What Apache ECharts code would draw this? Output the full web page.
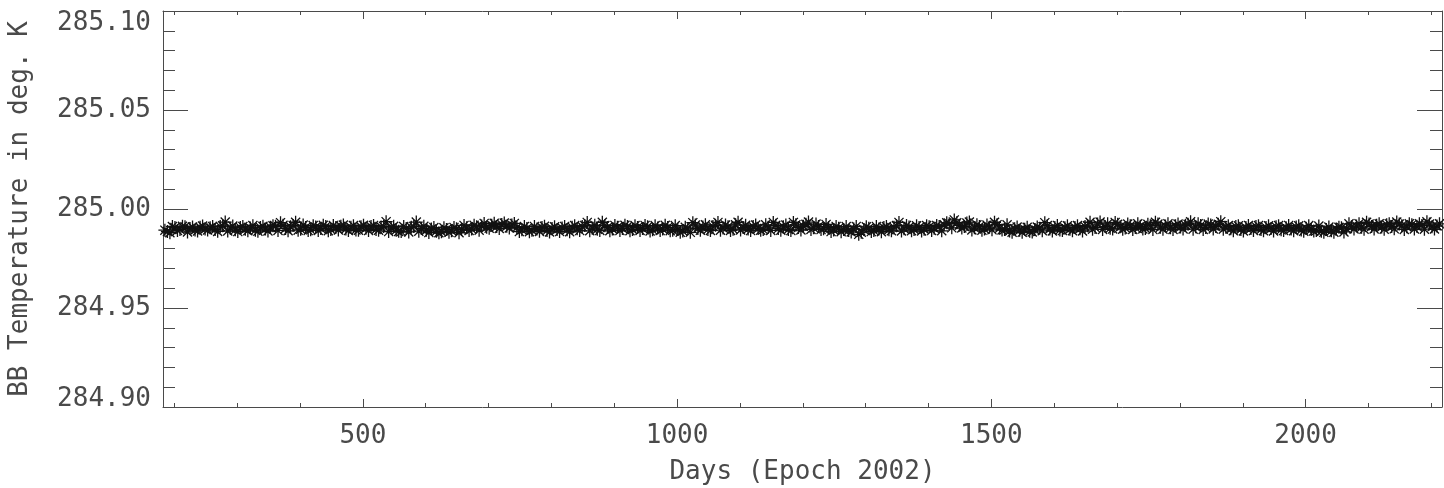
<!DOCTYPE html>
<html>
<head>
<meta charset="utf-8">
<script src="https://cdn.jsdelivr.net/npm/echarts@6/dist/echarts.min.js"></script>
<style>
html,body{margin:0;padding:0;background:#fff;}
#chart{width:1444px;height:488px;}
</style>
</head>
<body>
<div id="chart"></div>
<script>
// ---- data ----
const days = [
  185,193,201,209,217,225,233,241,249,257,
  265,273,281,289,297,305,313,321,329,337,
  345,353,361,369,377,385,393,401,409,417,
  425,433,441,449,457,465,473,481,489,497,
  505,513,521,529,537,545,553,561,569,577,
  585,593,601,609,617,625,633,641,649,657,
  665,673,681,689,697,705,713,721,729,737,
  745,753,761,769,777,785,793,801,809,817,
  825,833,841,849,857,865,873,881,889,897,
  905,913,921,929,937,945,953,961,969,977,
  985,993,1001,1009,1017,1025,1033,1041,1049,1057,
  1065,1073,1081,1089,1097,1105,1113,1121,1129,1137,
  1145,1153,1161,1169,1177,1185,1193,1201,1209,1217,
  1225,1233,1241,1249,1257,1265,1273,1281,1289,1297,
  1305,1313,1321,1329,1337,1345,1353,1361,1369,1377,
  1385,1393,1401,1409,1417,1425,1433,1441,1449,1457,
  1465,1473,1481,1489,1497,1505,1513,1521,1529,1537,
  1545,1553,1561,1569,1577,1585,1593,1601,1609,1617,
  1625,1633,1641,1649,1657,1665,1673,1681,1689,1697,
  1705,1713,1721,1729,1737,1745,1753,1761,1769,1777,
  1785,1793,1801,1809,1817,1825,1833,1841,1849,1857,
  1865,1873,1881,1889,1897,1905,1913,1921,1929,1937,
  1945,1953,1961,1969,1977,1985,1993,2001,2009,2017,
  2025,2033,2041,2049,2057,2065,2073,2081,2089,2097,
  2105,2113,2121,2129,2137,2145,2153,2161,2169,2177,
  2185,2193,2201,2209
];
const temps = [
  284.9893,284.9880,284.9906,284.9897,284.9910,284.9902,284.9894,284.9908,284.9899,284.9905,
  284.9896,284.9912,284.9934,284.9903,284.9895,284.9907,284.9898,284.9904,284.9893,284.9906,
  284.9899,284.9908,284.9913,284.9931,284.9902,284.9910,284.9933,284.9898,284.9907,284.9895,
  284.9909,284.9901,284.9912,284.9896,284.9906,284.9913,284.9899,284.9908,284.9894,284.9910,
  284.9903,284.9911,284.9897,284.9909,284.9936,284.9904,284.9893,284.9886,284.9902,284.9908,
  284.9934,284.9901,284.9893,284.9899,284.9888,284.9885,284.9896,284.9890,284.9900,284.9897,
  284.9905,284.9899,284.9910,284.9914,284.9908,284.9918,284.9912,284.9922,284.9913,284.9919,
  284.9906,284.9895,284.9902,284.9893,284.9899,284.9906,284.9891,284.9901,284.9897,284.9904,
  284.9895,284.9908,284.9900,284.9911,284.9932,284.9903,284.9898,284.9933,284.9906,284.9899,
  284.9908,284.9902,284.9912,284.9897,284.9907,284.9901,284.9910,284.9895,284.9904,284.9899,
  284.9907,284.9893,284.9897,284.9889,284.9900,284.9931,284.9902,284.9909,284.9897,284.9912,
  284.9932,284.9904,284.9910,284.9898,284.9933,284.9906,284.9899,284.9911,284.9902,284.9896,
  284.9908,284.9932,284.9901,284.9910,284.9897,284.9932,284.9906,284.9913,284.9934,284.9905,
  284.9912,284.9900,284.9906,284.9894,284.9903,284.9897,284.9892,284.9899,284.9872,284.9896,
  284.9903,284.9891,284.9899,284.9906,284.9895,284.9908,284.9932,284.9900,284.9909,284.9897,
  284.9906,284.9898,284.9910,284.9903,284.9912,284.9920,284.9926,284.9945,284.9918,284.9912,
  284.9934,284.9905,284.9912,284.9899,284.9908,284.9933,284.9903,284.9896,284.9889,284.9900,
  284.9893,284.9898,284.9887,284.9896,284.9903,284.9931,284.9899,284.9907,284.9894,284.9905,
  284.9898,284.9906,284.9900,284.9911,284.9933,284.9907,284.9934,284.9912,284.9903,284.9932,
  284.9910,284.9904,284.9915,284.9906,284.9913,284.9902,284.9916,284.9933,284.9908,284.9914,
  284.9905,284.9916,284.9909,284.9918,284.9935,284.9910,284.9917,284.9906,284.9919,284.9912,
  284.9936,284.9908,284.9900,284.9911,284.9897,284.9906,284.9902,284.9912,284.9896,284.9907,
  284.9901,284.9910,284.9895,284.9905,284.9899,284.9909,284.9894,284.9903,284.9897,284.9891,
  284.9888,284.9896,284.9890,284.9899,284.9905,284.9900,284.9910,284.9914,284.9908,284.9933,
  284.9912,284.9918,284.9909,284.9920,284.9911,284.9934,284.9915,284.9910,284.9921,284.9913,
  284.9917,284.9935,284.9910,284.9914
];
// interleaved samples (the upper / lower rows of the band)
const days2 = [
  189,197,205,213,221,229,237,245,253,261,
  269,277,285,293,301,309,317,325,333,341,
  349,357,365,373,381,389,397,405,413,421,
  429,437,445,453,461,469,477,485,493,501,
  509,517,525,533,541,549,557,565,573,581,
  589,597,605,613,621,629,637,645,653,661,
  669,677,685,693,701,709,717,725,733,741,
  749,757,765,773,781,789,797,805,813,821,
  829,837,845,853,861,869,877,885,893,901,
  909,917,925,933,941,949,957,965,973,981,
  989,997,1005,1013,1021,1029,1037,1045,1053,1061,
  1069,1077,1085,1093,1101,1109,1117,1125,1133,1141,
  1149,1157,1165,1173,1181,1189,1197,1205,1213,1221,
  1229,1237,1245,1253,1261,1269,1277,1285,1293,1301,
  1309,1317,1325,1333,1341,1349,1357,1365,1373,1381,
  1389,1397,1405,1413,1421,1429,1437,1445,1453,1461,
  1469,1477,1485,1493,1501,1509,1517,1525,1533,1541,
  1549,1557,1565,1573,1581,1589,1597,1605,1613,1621,
  1629,1637,1645,1653,1661,1669,1677,1685,1693,1701,
  1709,1717,1725,1733,1741,1749,1757,1765,1773,1781,
  1789,1797,1805,1813,1821,1829,1837,1845,1853,1861,
  1869,1877,1885,1893,1901,1909,1917,1925,1933,1941,
  1949,1957,1965,1973,1981,1989,1997,2005,2013,2021,
  2029,2037,2045,2053,2061,2069,2077,2085,2093,2101,
  2109,2117,2125,2133,2141,2149,2157,2165,2173,2181,
  2189,2197,2205,2213
];
const temps2 = [
  284.9886,284.9911,284.9892,284.9913,284.9884,284.9909,284.9889,284.9914,284.9894,284.9912,
  284.9887,284.9915,284.9889,284.9914,284.9886,284.9912,284.9890,284.9916,284.9888,284.9913,
  284.9889,284.9915,284.9892,284.9918,284.9890,284.9917,284.9893,284.9919,284.9891,284.9916,
  284.9892,284.9918,284.9890,284.9917,284.9894,284.9919,284.9891,284.9916,284.9893,284.9918,
  284.9891,284.9917,284.9893,284.9912,284.9886,284.9913,284.9887,284.9911,284.9884,284.9912,
  284.9888,284.9913,284.9881,284.9906,284.9880,284.9905,284.9882,284.9907,284.9880,284.9917,
  284.9892,284.9918,284.9893,284.9927,284.9903,284.9928,284.9902,284.9929,284.9904,284.9927,
  284.9886,284.9911,284.9885,284.9912,284.9887,284.9913,284.9884,284.9910,284.9886,284.9912,
  284.9885,284.9916,284.9891,284.9917,284.9890,284.9918,284.9892,284.9916,284.9890,284.9917,
  284.9891,284.9918,284.9890,284.9916,284.9892,284.9917,284.9889,284.9916,284.9891,284.9918,
  284.9890,284.9916,284.9883,284.9908,284.9882,284.9919,284.9893,284.9920,284.9892,284.9918,
  284.9893,284.9919,284.9892,284.9920,284.9894,284.9918,284.9891,284.9919,284.9893,284.9920,
  284.9892,284.9918,284.9893,284.9919,284.9891,284.9920,284.9894,284.9923,284.9897,284.9924,
  284.9896,284.9922,284.9886,284.9912,284.9885,284.9911,284.9884,284.9912,284.9883,284.9910,
  284.9886,284.9912,284.9885,284.9911,284.9890,284.9916,284.9889,284.9917,284.9890,284.9915,
  284.9889,284.9916,284.9891,284.9917,284.9890,284.9930,284.9905,284.9931,284.9904,284.9929,
  284.9894,284.9920,284.9893,284.9919,284.9895,284.9921,284.9894,284.9920,284.9883,284.9909,
  284.9882,284.9908,284.9884,284.9909,284.9890,284.9916,284.9889,284.9917,284.9891,284.9915,
  284.9890,284.9916,284.9889,284.9915,284.9898,284.9924,284.9897,284.9925,284.9899,284.9923,
  284.9898,284.9924,284.9897,284.9925,284.9899,284.9923,284.9896,284.9924,284.9898,284.9925,
  284.9897,284.9924,284.9899,284.9923,284.9898,284.9925,284.9897,284.9924,284.9899,284.9923,
  284.9898,284.9916,284.9890,284.9915,284.9889,284.9917,284.9891,284.9916,284.9890,284.9915,
  284.9889,284.9916,284.9891,284.9917,284.9890,284.9915,284.9888,284.9916,284.9889,284.9914,
  284.9882,284.9909,284.9883,284.9908,284.9884,284.9925,284.9899,284.9926,284.9898,284.9924,
  284.9899,284.9925,284.9898,284.9926,284.9900,284.9924,284.9897,284.9925,284.9899,284.9926,
  284.9898,284.9924,284.9899,284.9925
];
const xMajorTicks = [500, 1000, 1500, 2000];
const xMinorTicks = [200,300,400,600,700,800,900,1100,1200,1300,1400,1600,1700,1800,1900,2100,2200];
const xRange = [182, 2217];
const yRange = [284.90, 285.10];
const yStep = 0.05;
const xTitle = 'Days (Epoch 2002)';
const yTitle = 'BB Temperature in deg. K';

// ---- chart ----
const AXIS_COLOR = '#4a4a4a';
const TEXT_COLOR = '#4a4a4a';
const FONT = 'DejaVu Sans Mono';
const FS = 26;

const lineStyle = { color: AXIS_COLOR, width: 1 };
const starPath = 'path://M0,5L10,5M5,0L5,10M1.5,1.5L8.5,8.5M1.5,8.5L8.5,1.5';

function xAx(pos, major, withLabels) {
  return {
    type: 'value', position: pos, min: xRange[0], max: xRange[1],
    axisLine: { show: major, lineStyle: lineStyle, onZero: false },
    axisTick: { show: true, inside: true, length: major ? 8 : 4, lineStyle: lineStyle,
                customValues: major ? xMajorTicks : xMinorTicks },
    axisLabel: withLabels ? { show: true, customValues: xMajorTicks, margin: 16,
                color: TEXT_COLOR, fontFamily: FONT, fontSize: FS,
                formatter: v => String(v) } : { show: false },
    splitLine: { show: false },
    name: withLabels ? xTitle : '',
    nameLocation: 'middle', nameGap: 52,
    nameTextStyle: { color: TEXT_COLOR, fontFamily: FONT, fontSize: FS }
  };
}
function yAx(pos, withLabels) {
  return {
    type: 'value', position: pos, min: yRange[0], max: yRange[1], interval: yStep,
    axisLine: { show: true, lineStyle: lineStyle, onZero: false },
    axisTick: { show: true, inside: true, length: 25, lineStyle: lineStyle },
    minorTick: { show: true, splitNumber: 5, length: 12, lineStyle: lineStyle },
    axisLabel: withLabels ? { show: true, margin: 12, color: TEXT_COLOR, fontFamily: FONT, fontSize: FS,
                lineHeight: 16, padding: [4, 0, 0, 0],
                verticalAlignMaxLabel: 'top', verticalAlignMinLabel: 'bottom',
                formatter: v => v.toFixed(2) } : { show: false },
    splitLine: { show: false },
    name: withLabels ? yTitle : '',
    nameLocation: 'middle', nameGap: 130, nameRotate: 90,
    nameTextStyle: { color: TEXT_COLOR, fontFamily: FONT, fontSize: FS }
  };
}

const chart = echarts.init(document.getElementById('chart'), null, { renderer: 'canvas' });
const points = days.map((d, i) => [d, temps[i]]).concat(days2.map((d, i) => [d, temps2[i]]));
chart.setOption({
  animation: false,
  backgroundColor: '#ffffff',
  grid: { left: 163, right: 2, top: 11, bottom: 81, containLabel: false, outerBoundsMode: 'none' },
  xAxis: [xAx('bottom', true, true), xAx('bottom', false, false), xAx('top', true, false), xAx('top', false, false)],
  yAxis: [yAx('left', true), yAx('right', false)],
  series: [{
    type: 'scatter', xAxisIndex: 0, yAxisIndex: 0,
    symbol: starPath, symbolSize: 13,
    itemStyle: { color: 'rgba(0,0,0,0)', borderColor: '#111111', borderWidth: 1.3, opacity: 1 },
    data: points
  }]
});
</script>
</body>
</html>
